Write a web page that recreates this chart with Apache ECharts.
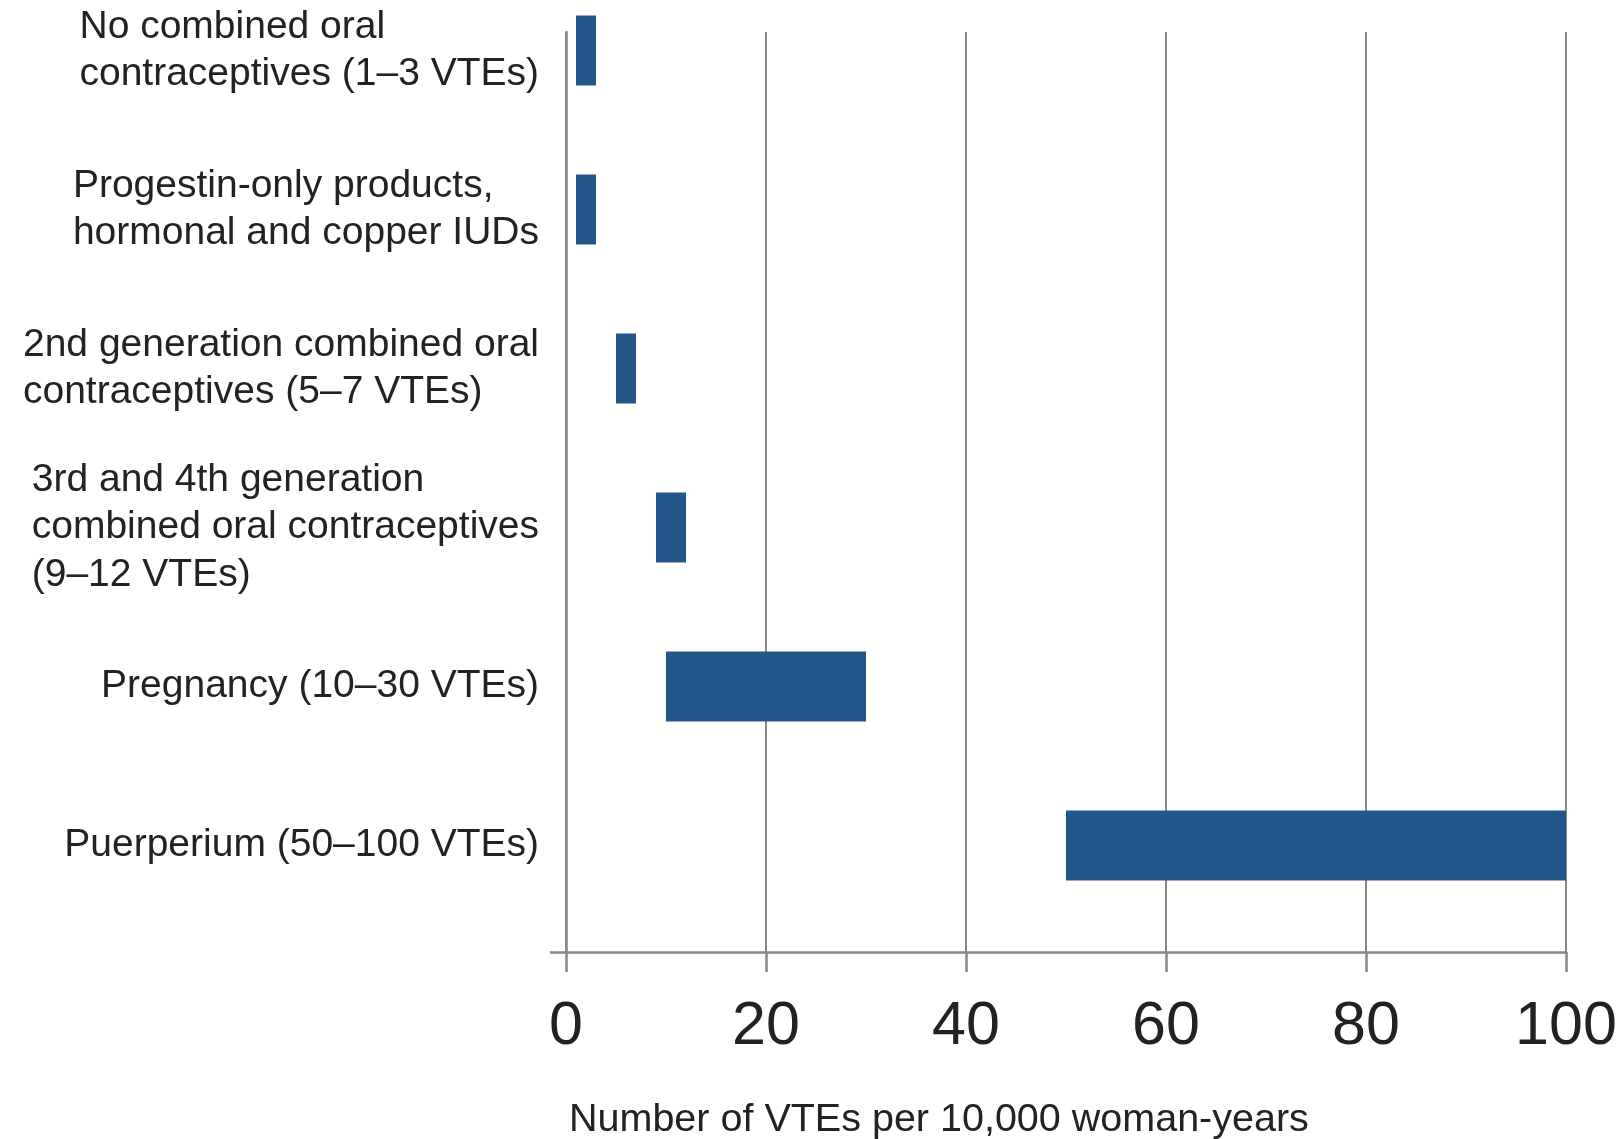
<!DOCTYPE html>
<html>
<head>
<meta charset="utf-8">
<title>VTE risk by contraceptive method</title>
<script src="https://cdn.jsdelivr.net/npm/echarts@6/dist/echarts.min.js"></script>
<style>
  html, body { margin: 0; padding: 0; background: #ffffff; }
  #chart { width: 1619px; height: 1139px; }
</style>
</head>
<body>
<div id="chart"></div>
<script>
// Categories, top to bottom
const categories = [
  'No combined oral\ncontraceptives (1\u20133 VTEs)',
  'Progestin-only products,\nhormonal and copper IUDs',
  '2nd generation combined oral\ncontraceptives (5\u20137 VTEs)',
  '3rd and 4th generation\ncombined oral contraceptives\n(9\u201312 VTEs)',
  'Pregnancy (10\u201330 VTEs)',
  'Puerperium (50\u2013100 VTEs)'
];
// Range of VTEs per 10,000 woman-years for each category
const rangeLow = [1, 1, 5, 9, 10, 50];
const rangeHigh = [3, 3, 7, 12, 30, 100];
// Value axis ticks
const axisMin = 0;
const axisMax = 100;
const axisStep = 20;
const axisTitle = 'Number of VTEs per 10,000 woman-years';

const FONT = '"Liberation Sans", Arial, Helvetica, sans-serif';
const TEXT = '#222222';
const LINE = '#878787';
const BAR = '#225689';

const rangeSpan = rangeHigh.map((h, i) => h - rangeLow[i]);

const chart = echarts.init(document.getElementById('chart'));
chart.setOption({
  backgroundColor: '#ffffff',
  animation: false,
  title: {
    text: axisTitle,
    left: 569,
    top: 1100,
    padding: 0,
    textStyle: { fontFamily: FONT, fontSize: 39.5, fontWeight: 'normal', color: TEXT }
  },
  grid: [
    // frame: gridlines, value axis and its labels
    { left: 566, right: 53, top: 32, bottom: 187, outerBoundsMode: 'none', containLabel: false },
    // bars and category labels
    { left: 566, right: 53, top: -29, bottom: 214, outerBoundsMode: 'none', containLabel: false }
  ],
  xAxis: [
    {
      gridIndex: 0,
      type: 'value',
      min: axisMin,
      max: axisMax,
      interval: axisStep,
      axisLine: { show: true, lineStyle: { color: LINE, width: 2.5 } },
      axisTick: { show: true, inside: false, length: 20, lineStyle: { color: LINE, width: 2.5 } },
      splitLine: { show: true, lineStyle: { color: LINE, width: 2 } },
      axisLabel: { show: true, margin: 45, fontFamily: FONT, fontSize: 61, color: TEXT, hideOverlap: false }
    },
    {
      gridIndex: 1,
      type: 'value',
      min: axisMin,
      max: axisMax,
      show: false
    }
  ],
  yAxis: [
    {
      gridIndex: 0,
      type: 'value',
      min: 0,
      max: 1,
      axisLine: { show: true, lineStyle: { color: LINE, width: 2.5 } },
      axisTick: { show: true, length: 16, customValues: [0], lineStyle: { color: LINE, width: 2.5 } },
      axisLabel: { show: false },
      splitLine: { show: false }
    },
    {
      gridIndex: 1,
      type: 'category',
      inverse: true,
      data: categories,
      axisLine: { show: false },
      axisTick: { show: false },
      splitLine: { show: false },
      axisLabel: {
        show: true,
        margin: 27,
        interval: 0,
        formatter: (v) => v.split('\n').map((l) => '{t|' + l + '}').join('\n'),
        rich: {
          t: { fontFamily: FONT, fontSize: 39, lineHeight: 47.5, color: TEXT, align: 'left' }
        }
      }
    }
  ],
  series: [
    {
      name: 'base',
      type: 'bar',
      xAxisIndex: 1,
      yAxisIndex: 1,
      stack: 'range',
      barWidth: 70,
      silent: true,
      itemStyle: { color: 'transparent' },
      data: rangeLow
    },
    {
      name: 'range',
      type: 'bar',
      xAxisIndex: 1,
      yAxisIndex: 1,
      stack: 'range',
      barWidth: 70,
      itemStyle: { color: BAR },
      data: rangeSpan
    }
  ]
});
</script>
</body>
</html>
